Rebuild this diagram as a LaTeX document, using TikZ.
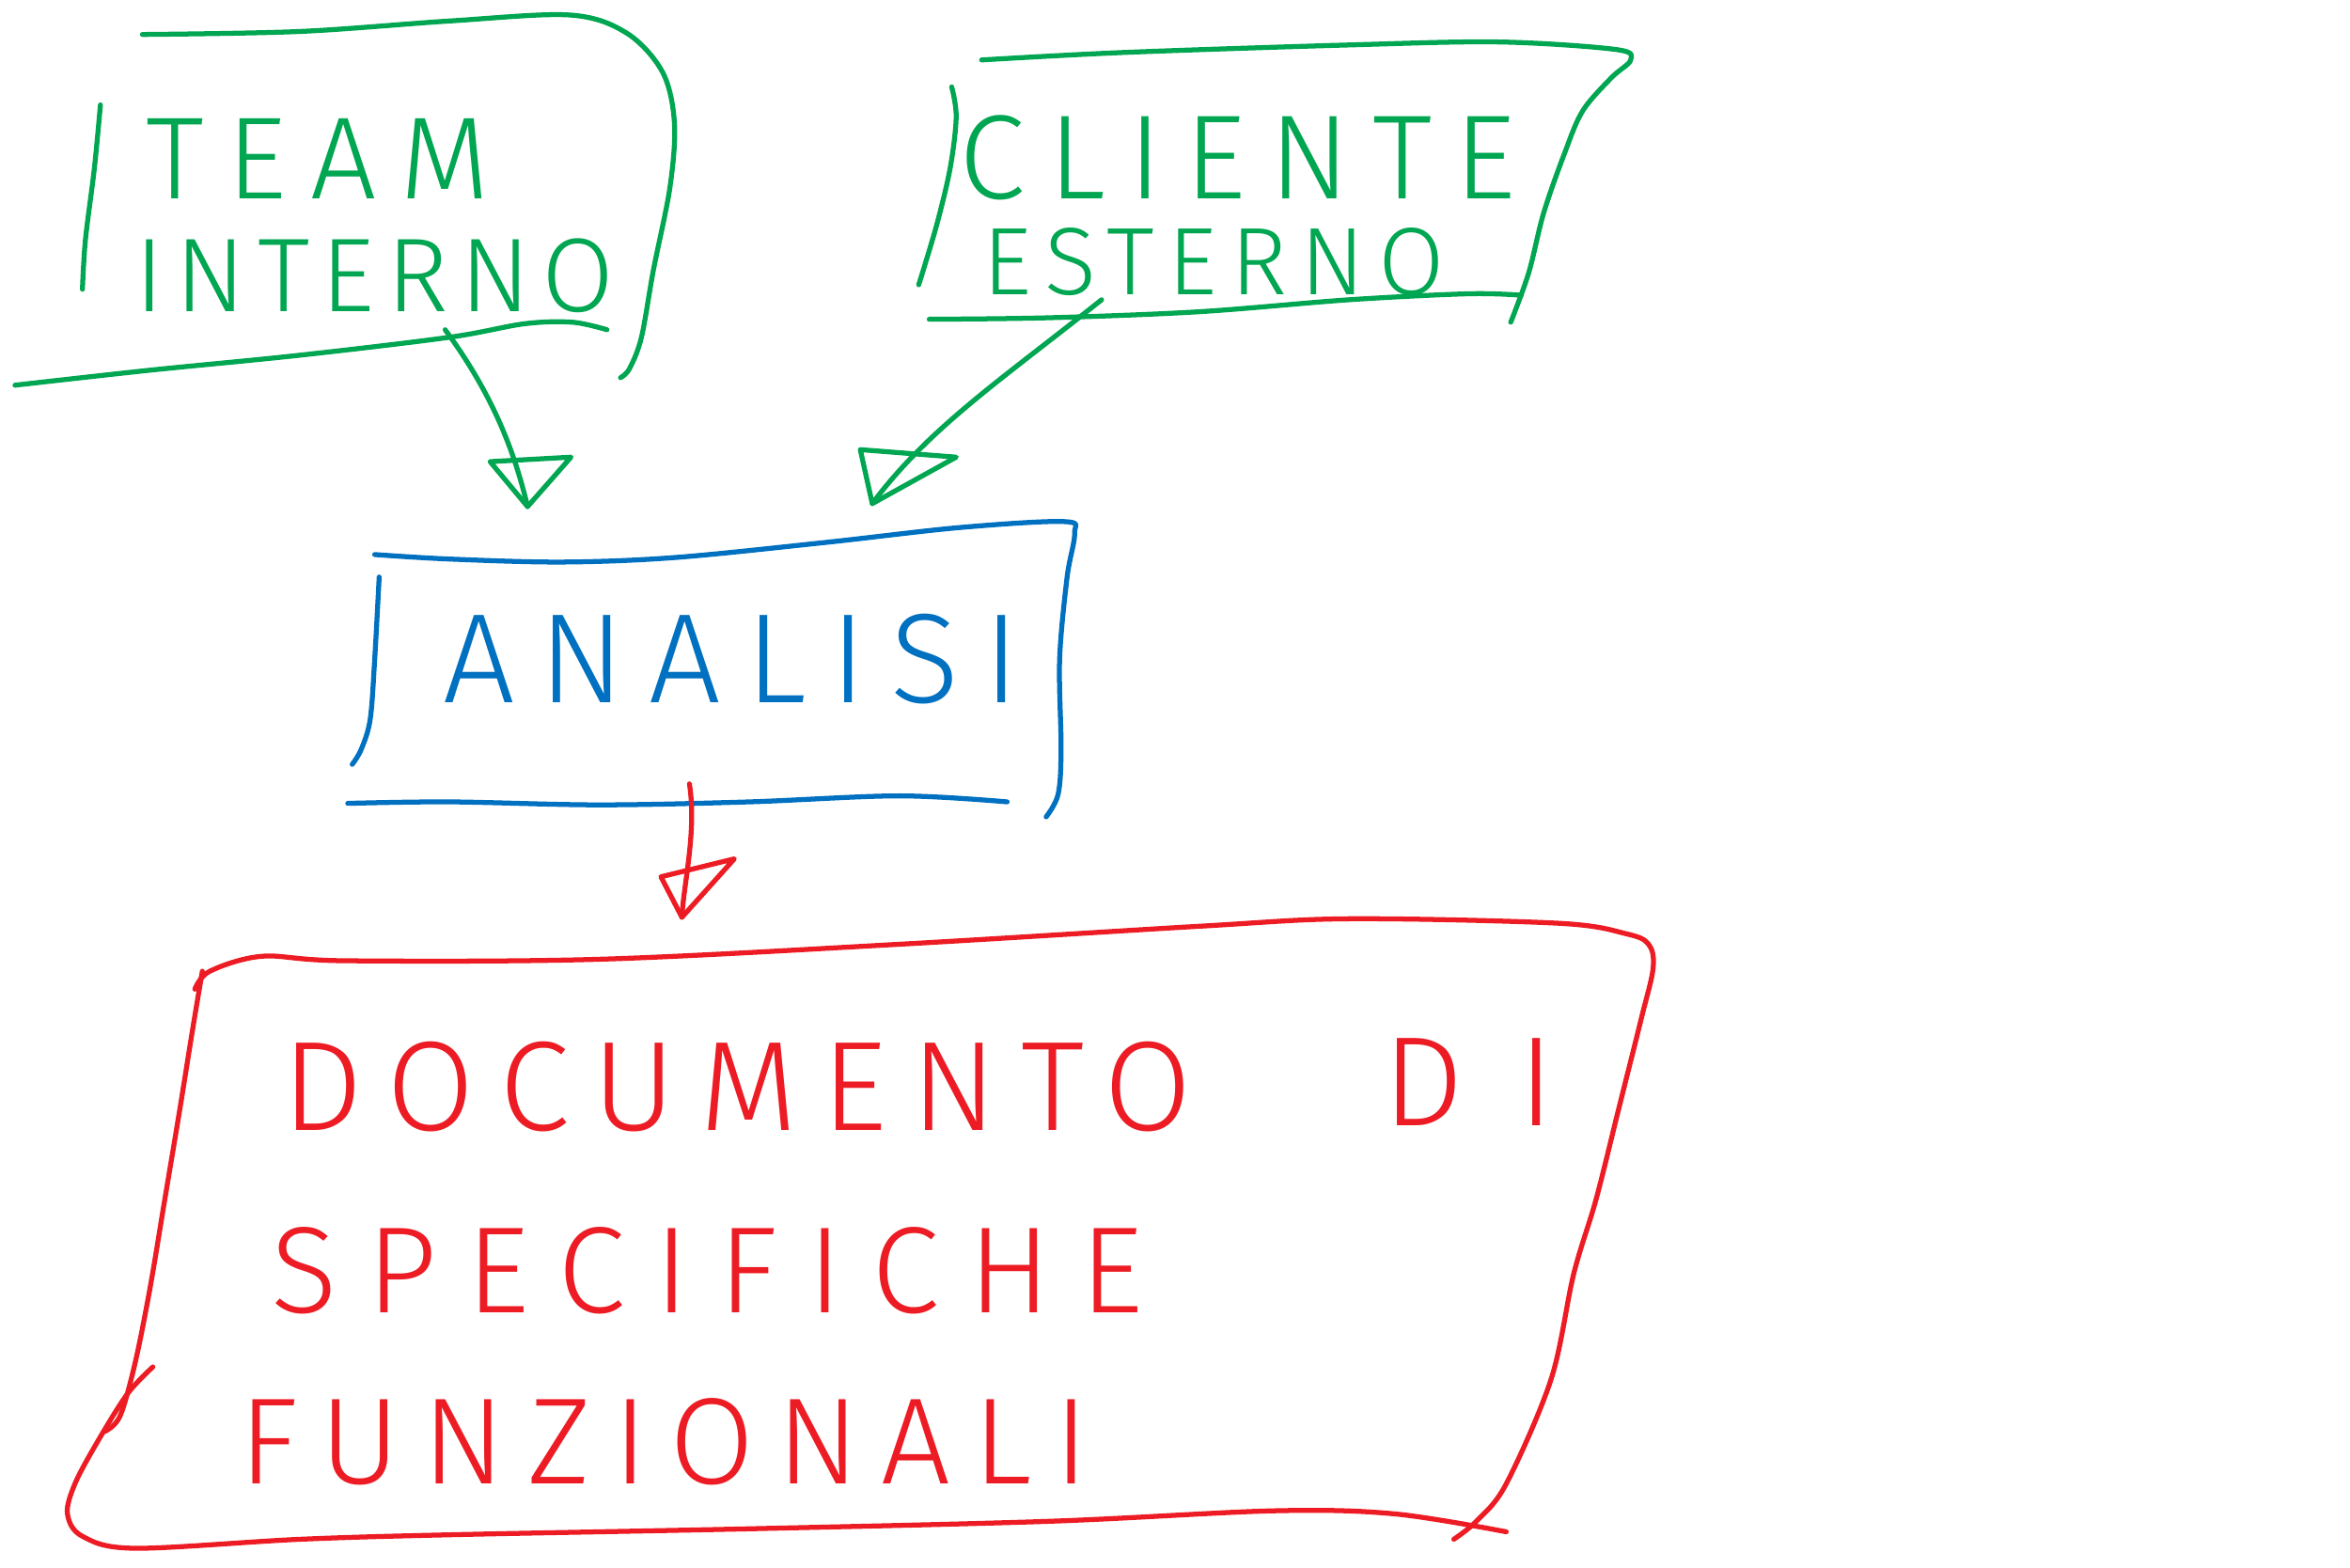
\documentclass[tikz,border=0pt]{standalone}
\usepackage{fontspec}
\setmainfont{Fira Sans}[UprightFont=* Light]
\usetikzlibrary{arrows.meta}
\definecolor{pgreen}{RGB}{0,166,81}
\definecolor{pblue}{RGB}{0,112,192}
\definecolor{pred}{RGB}{237,28,36}
\begin{document}
\begin{tikzpicture}[x=1pt,y=-1pt,
  pen/.style={line width=3.3pt, line cap=round, line join=round},
  hw/.style={inner sep=0pt, anchor=center},
  txtsize/.style n args={2}{font={\fontsize{#1}{#1}\selectfont\addfontfeature{LetterSpace=#2}}}]
\useasboundingbox[fill=white] (0,0) rectangle (1568,1046);

% ---------- TEAM INTERNO (green) ----------
\draw[pen,pgreen] plot[smooth,tension=0.55] coordinates {(95,23) (200,21) (300,14) (380,10) (418,22) (442,48) (450,82) (447,125) (436,180) (428,225) (420,246) (414,252)};
\draw[pen,pgreen] plot[smooth,tension=0.55] coordinates {(67,70) (63,112) (57,160) (55,193)};
\draw[pen,pgreen] plot[smooth,tension=0.55] coordinates {(10,257) (100,247) (200,237) (300,225) (350,216) (382,215) (405,220)};
\node[hw,pgreen,txtsize={78}{20}] (team) at (212,106) {TEAM};
\node[hw,pgreen,txtsize={70}{11}] (interno) at (250,184) {INTERNO};

% ---------- CLIENTE ESTERNO (green) ----------
\draw[pen,pgreen] plot[smooth,tension=0.55] coordinates {(655,40) (750,35) (900,30) (1000,28) (1078,33) (1088,40) (1075,52) (1056,74) (1044,102) (1030,142) (1020,182) (1008,215)};
\draw[pen,pgreen] plot[smooth,tension=0.55] coordinates {(635,58) (638,78) (634,112) (625,150) (613,190)};
\draw[pen,pgreen] plot[smooth,tension=0.55] coordinates {(620,213) (700,212) (800,208) (900,200) (980,196) (1015,197)};
\node[hw,pgreen,txtsize={80}{19}] (cliente) at (826,105) {CLIENTE};
\node[hw,pgreen,txtsize={64}{14}] (esterno) at (810,175) {ESTERNO};

% ---------- ANALISI (blue) ----------
\draw[pen,pblue] plot[smooth,tension=0.55] coordinates {(250,370) (300,373) (375,375) (450,372) (550,362) (640,352) (710,348) (717,356) (712,385) (707,440) (708,500) (706,530) (698,545)};
\draw[pen,pblue] plot[smooth,tension=0.55] coordinates {(253,385) (250,440) (247,480) (241,500) (235,510)};
\draw[pen,pblue] plot[smooth,tension=0.55] coordinates {(232,536) (300,535) (400,537) (500,535) (600,531) (672,535)};
\node[hw,pblue,txtsize={85}{19}] (analisi) at (488,440) {ANALISI};

% ---------- DOCUMENTO DI SPECIFICHE FUNZIONALI (red) ----------
\draw[pen,pred] plot[smooth,tension=0.55] coordinates {(130,660) (140,648) (175,638) (230,641) (400,640) (600,630) (800,618) (900,613) (1040,616) (1085,623) (1100,630) (1103,646) (1095,680) (1080,740) (1065,800) (1050,850) (1035,920) (1005,990) (985,1015) (970,1027)};
\draw[pen,pred] plot[smooth,tension=0.55] coordinates {(135,648) (128,690) (120,740) (110,800) (100,860) (90,910) (80,945) (70,955)};
\draw[pen,pred] plot[smooth,tension=0.55] coordinates {(102,912) (85,930) (65,962) (50,990) (45,1010) (55,1025) (90,1033) (200,1027) (300,1024) (500,1020) (700,1015) (850,1008) (930,1010) (1005,1022)};
\node[hw,pred,txtsize={85}{19}] (documento) at (492,725) {DOCUMENTO};
\node[hw,pred,txtsize={85}{43}] (di) at (980,722) {DI};
\node[hw,pred,txtsize={82}{24}] (specifiche) at (472,848) {SPECIFICHE};
\node[hw,pred,txtsize={82}{18}] (funzionali) at (443,962) {FUNZIONALI};

% ---------- connectors ----------
\coordinate (teamout) at (297,220);
\coordinate (tipA) at (352,338);
\coordinate (clienteout) at (735,200);
\coordinate (tipB) at (582,336);
\coordinate (analisiout) at (460,523);
\coordinate (tipC) at (455,612);

\draw[pen,pgreen] (teamout) .. controls (328,262) and (343,300) .. (tipA);
\draw[pen,pgreen] (tipA) -- ++(-25,-30) -- ++(54,-3) -- cycle;

\draw[pen,pgreen] (clienteout) .. controls (670,252) and (620,285) .. (tipB);
\draw[pen,pgreen] (tipB) -- ++(-8,-36) -- ++(64,5) -- cycle;

\draw[pen,pred] (analisiout) .. controls (465,555) and (456,590) .. (tipC);
\draw[pen,pred] (tipC) -- ++(-14,-27) -- ++(49,-12) -- cycle;
\end{tikzpicture}
\end{document}
